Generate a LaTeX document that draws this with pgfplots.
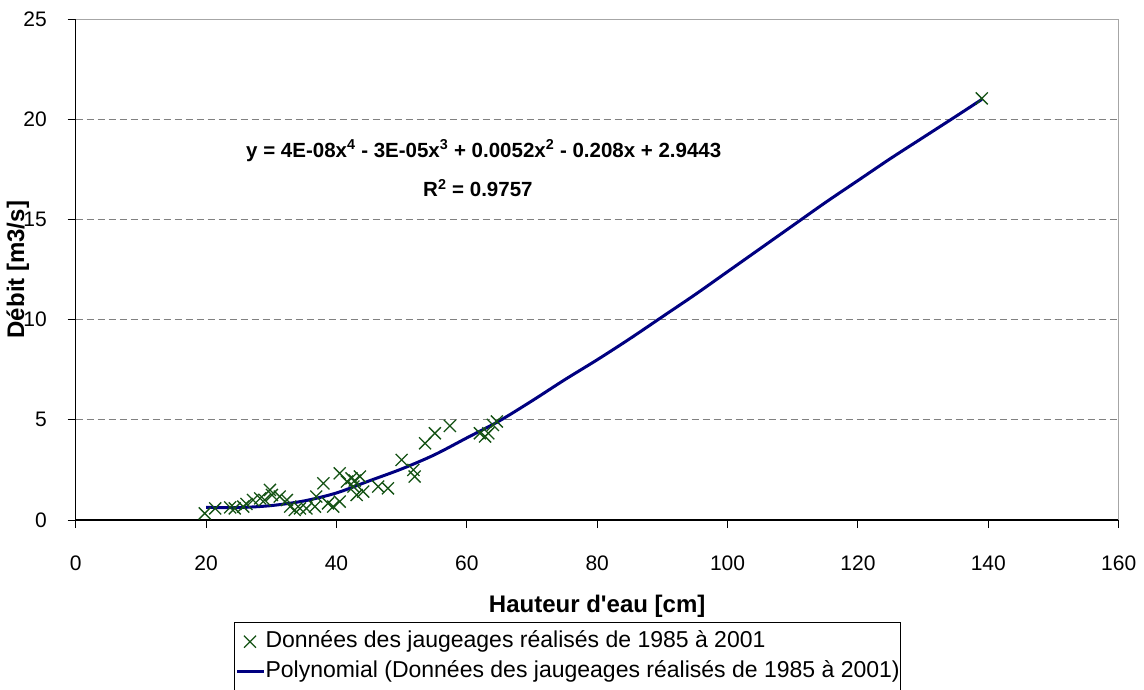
\documentclass[border=0pt]{standalone}
\usepackage{pgfplots}
\pgfplotsset{compat=1.18}
\usepackage{fontspec}
\setmainfont{Liberation Sans}[Ligatures=TeXOff]
\definecolor{navyline}{HTML}{000080}
\definecolor{ptgreen}{HTML}{145214}
\pgfplotsset{
  mylineleg/.style={legend image code/.code={\draw[##1] (0pt,0pt) -- (27pt,0pt);}},
  mymarkleg/.style={legend image code/.code={\draw[##1] plot coordinates {(13pt,0pt)};}},
}
\begin{document}
\begin{tikzpicture}[x=1pt,y=1pt]
\path[use as bounding box] (0,0) rectangle (1144,689);
\begin{axis}[
  at={(75.7pt,169pt)}, anchor=south west,
  width=1043pt, height=500.7pt, scale only axis,
  xmin=0, xmax=160, ymin=0, ymax=25,
  xtick={0,20,...,160}, ytick={0,5,...,25},
  axis x line*=bottom, axis y line*=left,
  axis line style={black, line width=1.2pt, -},
  tick align=outside, major tick length=8pt,
  tick style={black, line width=1pt},
  ymajorgrids,
  grid style={color=gray, dash pattern=on 7pt off 4pt, line width=1pt},
  /pgf/number format/assume math mode=true,
  ticklabel style={font=\fontsize{21}{24}\selectfont},
  xticklabel style={anchor=north, inner sep=0pt, yshift=-28pt},
  yticklabel style={anchor=east, inner sep=0pt, xshift=-20.7pt},
  xlabel={Hauteur d'eau [cm]},
  ylabel={Débit [m3/s]},
  label style={font=\bfseries\fontsize{24}{28}\selectfont},
  xlabel style={at={(axis description cs:0.5,0)}, anchor=base, yshift=-92pt},
  ylabel style={at={(axis description cs:-0.0495,0.5)}, anchor=base},
  legend style={at={(axis description cs:0.1518,-0.2031)}, anchor=north west,
    draw=black, line width=1pt, font=\fontsize{23}{27}\selectfont,
    inner xsep=1pt, inner ysep=8pt, row sep=7pt,
    nodes={inner sep=0pt, text height=17pt, text depth=6pt}},
  legend cell align=left,
  clip=false,
]
\draw[gray!70, line width=1pt] (rel axis cs:0,1) -- (rel axis cs:1,1) -- (rel axis cs:1,0);
\addplot[only marks, mark=x, mark size=8.5pt, ptgreen, mark options={line width=1.3pt}, mymarkleg]
coordinates {
(19.8,0.33) (21.4,0.58) (23.7,0.63) (24.4,0.58) (25.7,0.67) (26.2,0.80)
(27.2,1.00) (28.3,1.08) (29.0,1.00) (29.8,1.50) (30.1,1.25) (31.3,1.17)
(32.4,1.00) (32.9,0.67) (33.6,0.50) (34.4,0.58) (35.4,0.58) (36.7,0.67)
(36.9,1.17) (38.0,1.83) (38.7,0.83) (39.5,0.67) (40.5,2.33) (40.5,0.92)
(41.6,1.92) (42.3,2.08) (42.6,1.67) (43.1,1.25) (42.8,1.97) (43.6,2.17)
(44.1,1.42) (46.4,1.67) (47.9,1.58) (50.0,3.00) (51.8,2.50) (52.0,2.17)
(53.6,3.83) (55.1,4.33) (57.4,4.70) (62.0,4.33) (62.8,4.17) (63.3,4.33)
(64.0,4.75) (64.6,4.92) (139.0,21.05)
};
\addlegendentry{Données des jaugeages réalisés de 1985 à 2001}
\addplot[navyline, line width=3pt, smooth, no marks, mylineleg]
coordinates {
(20,0.63) (25,0.62) (30,0.72) (35,0.95) (40,1.35) (45,1.95) (50,2.55)
(55,3.25) (60,4.10) (65,4.95) (70,5.95) (75,7.00) (80,8.00) (85,9.05)
(90,10.15) (95,11.25) (100,12.40) (105,13.55) (110,14.70) (115,15.85)
(120,16.95) (125,18.05) (130,19.10) (135,20.15) (139,21.00)
};
\addlegendentry{Polynomial (Données des jaugeages réalisés de 1985 à 2001)}
\node[anchor=base, font=\bfseries\fontsize{20.5}{24}\selectfont] at (axis cs:62.6,18.12)
  {y = 4E-08x\textsuperscript{4} - 3E-05x\textsuperscript{3} + 0.0052x\textsuperscript{2} - 0.208x + 2.9443};
\node[anchor=base, font=\bfseries\fontsize{20.5}{24}\selectfont] at (axis cs:61.7,16.13)
  {R\textsuperscript{2} = 0.9757};
\end{axis}
\end{tikzpicture}
\end{document}
